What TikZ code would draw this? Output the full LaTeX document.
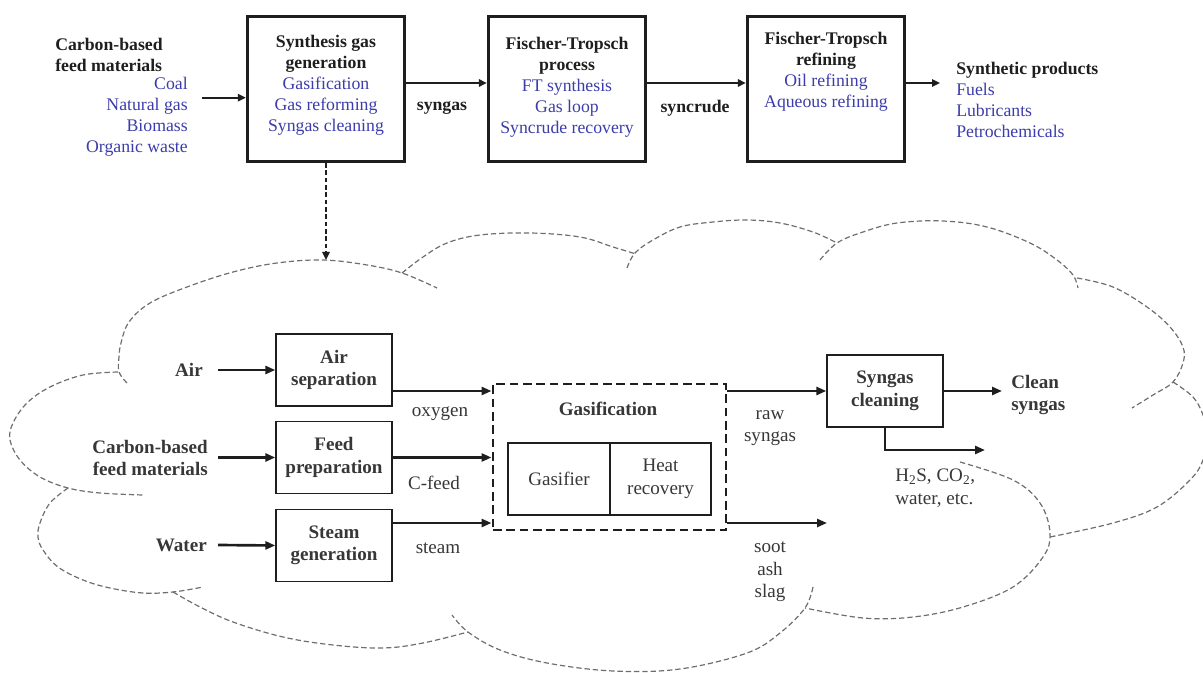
\documentclass[tikz,border=0pt]{standalone}
\usepackage{fontspec}
\setmainfont{Liberation Serif}
\usetikzlibrary{arrows.meta,calc}
\definecolor{fblue}{RGB}{60,60,170}
\definecolor{ink}{RGB}{30,30,30}
\definecolor{lbl}{RGB}{55,55,55}
\definecolor{cloudgray}{RGB}{110,110,110}
\begin{document}
\begin{tikzpicture}[x=0.75pt,y=-0.75pt,
  topbox/.style={draw=ink, line width=2.5pt, minimum width=117.75pt, minimum height=108.75pt, inner sep=0},
  toptext/.style={align=center, font=\fontsize{13.3}{15.75}\selectfont, text=ink, inner sep=0},
  bottext/.style={align=center, font=\fontsize{14.3}{16.9}\selectfont, text=lbl, inner sep=0},
  botbox/.style={draw=ink, line width=1pt, minimum width=87pt, minimum height=54pt, inner sep=0, align=center, font=\fontsize{14.3}{16.9}\selectfont\bfseries, text=lbl},
  innerbox/.style={draw=ink, line width=1pt, minimum height=54pt, inner sep=0, align=center, font=\fontsize{14.3}{16.9}\selectfont, text=lbl},
  gasbox/.style={draw=ink, line width=2.2pt, dash pattern=on 6.5pt off 3.5pt, minimum width=174.75pt, minimum height=109.5pt, inner sep=0},
  toparrow/.style={draw=ink, line width=1.5pt, -{Triangle[length=6pt,width=5.5pt]}},
  botarrow/.style={draw=ink, line width=2pt, -{Triangle[length=7.5pt,width=6pt]}},
  dasharrow/.style={draw=ink, line width=1.5pt, dash pattern=on 3.5pt off 2pt, -{Triangle[length=6pt,width=5.5pt]}},
  cloudline/.style={draw=cloudgray, line width=0.9pt, dash pattern=on 4pt off 2.2pt}
]
\useasboundingbox (0,0) rectangle (1203,673);

% ---------- top row ----------
\node[topbox] (box1) at (326,89) {};
\node[topbox] (box2) at (567,89) {};
\node[topbox] (box3) at (826,89) {};

\node[toptext] (t1) at (326,85) {\textbf{Synthesis gas}\\\textbf{generation}\\\textcolor{fblue}{Gasification}\\\textcolor{fblue}{Gas reforming}\\\textcolor{fblue}{Syngas cleaning}};
\node[toptext] (t2) at (567,87) {\textbf{Fischer-Tropsch}\\\textbf{process}\\\textcolor{fblue}{FT synthesis}\\\textcolor{fblue}{Gas loop}\\\textcolor{fblue}{Syncrude recovery}};
\node[toptext] (t3) at (826,72) {\textbf{Fischer-Tropsch}\\\textbf{refining}\\\textcolor{fblue}{Oil refining}\\\textcolor{fblue}{Aqueous refining}};

\node[toptext, align=left, anchor=west] (feedhead) at (55,55) {\textbf{Carbon-based}\\\textbf{feed materials}};
\node[toptext, align=right, anchor=east, text=fblue] (feedlist) at (188,117) {Coal\\Natural gas\\Biomass\\Organic waste};
\node[toptext, align=left, anchor=west] (products) at (956,100) {\textbf{Synthetic products}\\\textcolor{fblue}{Fuels}\\\textcolor{fblue}{Lubricants}\\\textcolor{fblue}{Petrochemicals}};

\node[toptext] (syngaslbl) at (442,108) {\textbf{syngas}};
\node[toptext] (syncrudelbl) at (695,108) {\textbf{syncrude}};

\coordinate (feedin) at (202,97.7);
\coordinate (prodout) at (940,83);
\coordinate (cloudtop) at (326,260);

\draw[toparrow] (feedin) -- (feedin -| box1.west);
\draw[toparrow] ($(box1.east)+(0,-6)$) -- ($(box2.west)+(0,-6)$);
\draw[toparrow] ($(box2.east)+(0,-6)$) -- ($(box3.west)+(0,-6)$);
\draw[toparrow] ($(box3.east)+(0,-6)$) -- (prodout);
\draw[dasharrow] (box1.south) -- (cloudtop);

% ---------- cloud ----------
\draw[cloudline] plot[smooth, tension=0.6] coordinates {(127,383) (119,372) (119,357) (121,343) (129,322) (150,303) (187,287) (233,272) (277,263) (323,260) (367,265) (402,273) (437,288)};
\draw[cloudline] plot[smooth, tension=0.6] coordinates {(402,273) (423,257) (447,243) (480,235) (530,233) (580,237) (613,247) (636,254)};
\draw[cloudline] plot[smooth, tension=0.6] coordinates {(627,268) (635,253) (653,240) (680,227) (713,222) (747,220) (780,223) (813,232) (837,243)};
\draw[cloudline] plot[smooth, tension=0.6] coordinates {(820,260) (837,243) (863,232) (897,223) (943,221) (987,227) (1030,243) (1057,260) (1073,275) (1078,288)};
\draw[cloudline] plot[smooth, tension=0.6] coordinates {(1077,278) (1113,287) (1147,307) (1170,327) (1183,347) (1183,363) (1173,382) (1153,395) (1132,408)};
\draw[cloudline] plot[smooth, tension=0.6] coordinates {(1173,382) (1193,397) (1203,415) (1207,435) (1203,460) (1190,480) (1157,507) (1113,523) (1050,537)};
\draw[cloudline] plot[smooth, tension=0.6] coordinates {(960,462) (1013,480) (1040,503) (1050,533) (1043,557) (1013,587) (963,607) (913,617) (863,618) (805,608)};
\draw[cloudline] plot[smooth, tension=0.6] coordinates {(813,587) (805,608) (780,633) (747,653) (680,669) (613,671) (547,663) (500,650) (468,632) (452,615)};
\draw[cloudline] plot[smooth, tension=0.6] coordinates {(173,592) (200,607) (233,622) (283,637) (333,645) (383,648) (423,643) (468,632)};
\draw[cloudline] plot[smooth, tension=0.6] coordinates {(68,488) (50,503) (40,523) (38,537) (43,550) (58,567) (83,580) (110,588) (143,593) (173,592) (203,587)};
\draw[cloudline] plot[smooth, tension=0.6] coordinates {(118,372) (83,375) (50,387) (27,403) (13,423) (10,440) (20,460) (40,477) (68,488) (100,493) (143,495)};

% ---------- bottom flow ----------
\node[botbox] (airsep) at (334,370) {Air\\separation};
\node[botbox] (feedprep) at (334,457.5) {Feed\\preparation};
\node[botbox] (steamgen) at (334,545.5) {Steam\\generation};

\node[bottext, font=\fontsize{14.3}{16.9}\selectfont\bfseries, anchor=east] (airlbl) at (203,370) {Air};
\node[bottext, font=\fontsize{14.3}{16.9}\selectfont\bfseries, anchor=east, align=right] (feedlbl) at (208,458) {Carbon-based\\feed materials};
\node[bottext, font=\fontsize{14.3}{16.9}\selectfont\bfseries, anchor=east] (waterlbl) at (207,545) {Water};

\draw[botarrow] ([xshift=11.25pt]airlbl.east) -- (airsep.west);
\draw[botarrow] ([xshift=7.5pt]feedlbl.east |- feedprep.west) -- (feedprep.west);
\draw[botarrow] ([xshift=8.25pt]waterlbl.east) -- (steamgen.west);

\node[gasbox] (gasif) at (609.5,457) {};
\node[bottext, font=\fontsize{14.3}{16.9}\selectfont\bfseries] (gastitle) at (608,409) {Gasification};
\node[innerbox, minimum width=76.5pt] (gasifier) at (559,479) {Gasifier};
\node[innerbox, minimum width=75.75pt] (heatrec) at (660.5,479) {Heat\\recovery};

\coordinate (oxyout) at ($(airsep.east)+(0,21)$);
\coordinate (steamout) at ($(steamgen.east)+(0,-22.5)$);
\draw[botarrow] (oxyout) -- (oxyout -| gasif.west);
\draw[botarrow] (feedprep.east) -- (feedprep.east -| gasif.west);
\draw[botarrow] (steamout) -- (steamout -| gasif.west);

\node[bottext] (oxylbl) at (440,414) {oxygen};
\node[bottext] (cfeedlbl) at (434,483) {C-feed};
\node[bottext] (steamlbl) at (438,548) {steam};

\node[botbox] (sgclean) at (885,391) {Syngas\\cleaning};
\draw[botarrow] (sgclean.west -| gasif.east) -- (sgclean.west);

\coordinate (sootend) at (827,523);
\draw[botarrow] (sootend -| gasif.east) -- (sootend);

\node[bottext] (rawlbl) at (770,428) {raw\\syngas};
\node[bottext] (sootlbl) at (770,572) {soot\\ash\\slag};

\node[bottext, font=\fontsize{14.3}{16.9}\selectfont\bfseries, anchor=west, align=left] (cleanlbl) at (1011,395) {Clean\\syngas};
\draw[botarrow] (sgclean.east) -- ([xshift=-6.75pt]sgclean.east -| cleanlbl.west);

\coordinate (bypend) at (985,450);
\draw[botarrow] (sgclean.south) |- (bypend);
\node[bottext, anchor=west, align=left] (h2slbl) at (895,488) {H\textsubscript{2}S, CO\textsubscript{2},\\water, etc.};

\end{tikzpicture}
\end{document}
